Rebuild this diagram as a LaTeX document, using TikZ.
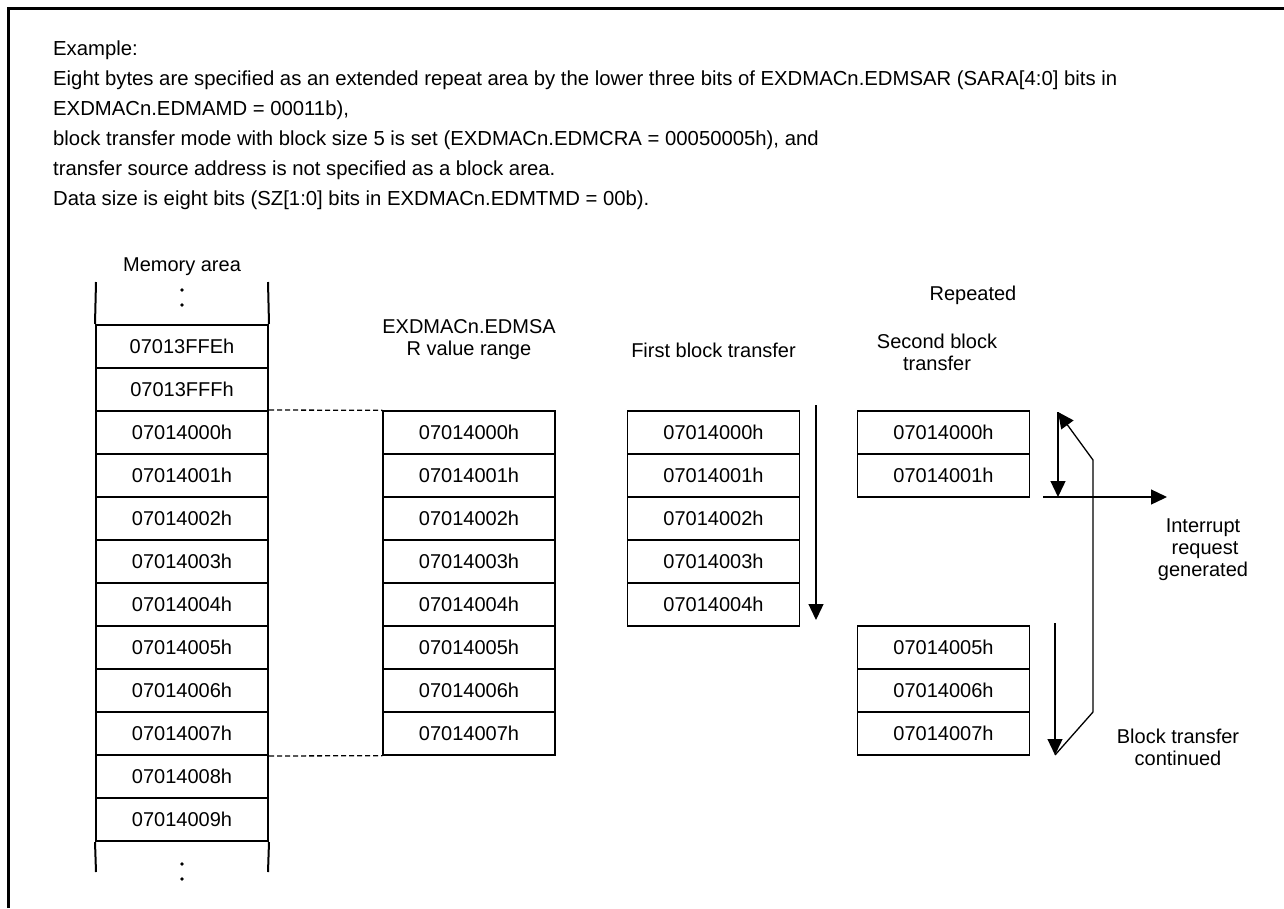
\documentclass[tikz,border=0pt]{standalone}
\usepackage{fontspec}
\setmainfont{Liberation Sans}
\usetikzlibrary{arrows.meta}
\begin{document}
\begin{tikzpicture}[x=1pt,y=-1pt,
  every node/.style={font=\fontsize{20}{22.5}\selectfont, inner sep=0pt},
  cell/.style={draw, line width=1.3pt, minimum width=172pt, minimum height=43pt},
  memcell/.style={draw, line width=2pt, minimum width=172pt, minimum height=43pt},
  memline/.style={line width=2pt},
  txt/.style={anchor=base},
  hdr/.style={anchor=base west, font=\fontsize{20.3}{22.5}\selectfont},
  arr/.style={line width=1.3pt, -{Triangle[length=16pt,width=15pt]}},
  framestyle/.style={line width=3pt},
  dashline/.style={line width=1.3pt, dash pattern=on 5pt off 3pt}]
\useasboundingbox (0,0) rectangle (1284,908);
% frame
\coordinate (frBL) at (8.5,908);
\coordinate (frTL) at (8.5,8.5);
\coordinate (frTR) at (1284,8.5);
\draw[framestyle] (frBL) -- (frTL) -- (frTR);
% header text
\node[hdr] (h1) at (53,55) {Example:};
\node[hdr] (h2) at (53,85) {Eight bytes are specified as an extended repeat area by the lower three bits of EXDMACn.EDMSAR (SARA[4:0] bits in};
\node[hdr] (h3) at (53,115) {EXDMACn.EDMAMD = 00011b),};
\node[hdr] (h4) at (53,145) {block transfer mode with block size 5 is set (EXDMACn.EDMCRA = 00050005h), and};
\node[hdr] (h5) at (53,175) {transfer source address is not specified as a block area.};
\node[hdr] (h6) at (53,205) {Data size is eight bits (SZ[1:0] bits in EXDMACn.EDMTMD = 00b).};
% memory area
\node[txt] (memlbl) at (182,271) {Memory area};
\node[memcell] (mFE) at (182,346.5) {07013FFEh};
\node[memcell] (mFF) at (182,389.5) {07013FFFh};
\foreach \i in {0,...,9} \node[memcell] (m\i) at (182,{432.5+43*\i}) {0701400\i{}h};
\coordinate (mTL) at (96,282);
\coordinate (mTR) at (268,282);
\coordinate (mBL) at (96,872);
\coordinate (mBR) at (268,872);
\draw[memline] (mTL) -- (mFE.north west);
\draw[memline] (mTR) -- (mFE.north east);
\draw[memline] (mBL) -- (m9.south west);
\draw[memline] (mBR) -- (m9.south east);
\fill (182,290) circle (1.9pt);
\fill (182,305) circle (1.9pt);
\fill (182,864) circle (1.9pt);
\fill (182,879) circle (1.9pt);
% EDMSAR value range
\node[txt] (sl1) at (469,333) {EXDMACn.EDMSA};
\node[txt] (sl2) at (469,355) {R value range};
\foreach \i in {0,...,7} \node[cell] (s\i) at (469,{432.5+43*\i}) {0701400\i{}h};
\draw[dashline] (m0.north east) -- (s0.north west);
\draw[dashline] (m7.south east) -- (s7.south west);
% first block transfer
\node[txt] (fl) at (713.5,357) {First block transfer};
\foreach \i in {0,...,4} \node[cell] (f\i) at (713.5,{432.5+43*\i}) {0701400\i{}h};
\coordinate (fa1) at (816,405);
\coordinate (fa2) at (816,620);
\draw[arr] (fa1) -- (fa2);
% second block transfer
\node[txt] (rep) at (973,300) {Repeated};
\node[txt] (tl1) at (937,348) {Second block};
\node[txt] (tl2) at (937,370) {transfer};
\foreach \i in {0,1,5,6,7} \node[cell] (t\i) at (943.5,{432.5+43*\i}) {0701400\i{}h};
% right arrows
\coordinate (ra1) at (1058,412);
\coordinate (ra2) at (1058,497);
\draw[arr] (ra1) -- (ra2);
\coordinate (rp1) at (1055,755);
\coordinate (rp2) at (1093,712);
\coordinate (rp3) at (1093,460);
\draw[arr] (rp1) -- (rp2) -- (rp3) -- (ra1);
\coordinate (ia1) at (1043,497);
\coordinate (ia2) at (1167,497);
\draw[arr] (ia1) -- (ia2);
\coordinate (ca1) at (1055,623);
\draw[arr] (ca1) -- (rp1);
\node[txt] (ir1) at (1203,532) {Interrupt};
\node[txt] (ir2) at (1205,554) {request};
\node[txt] (ir3) at (1203,576) {generated};
\node[txt] (bc1) at (1178,743) {Block transfer};
\node[txt] (bc2) at (1178,765) {continued};
\end{tikzpicture}
\end{document}
